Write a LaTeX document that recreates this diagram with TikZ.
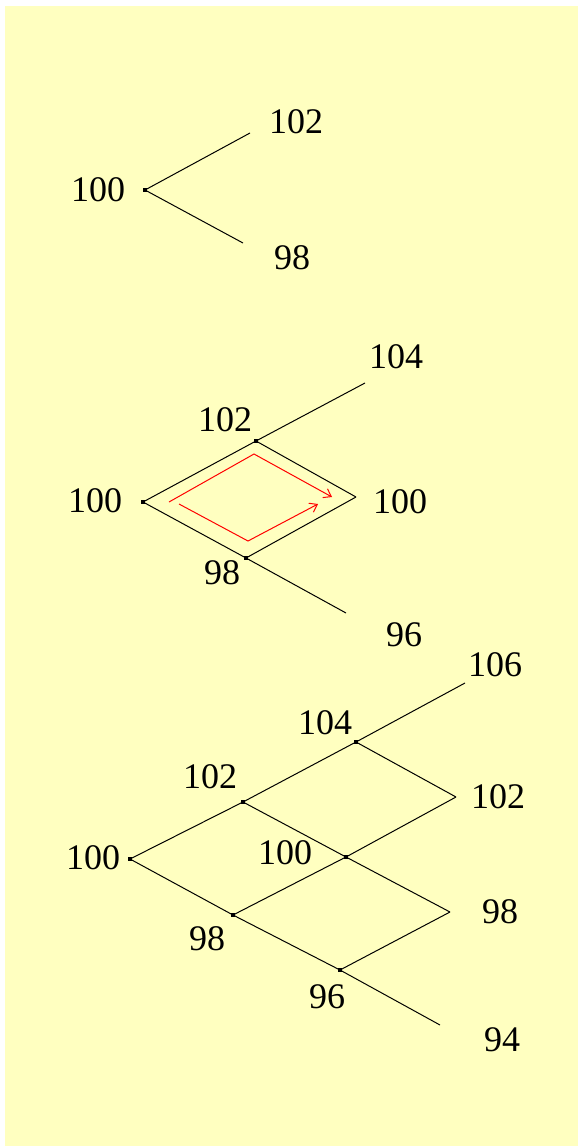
\documentclass[tikz,border=0pt]{standalone}
\usepackage{fontspec}
\setmainfont{Liberation Serif}
\usetikzlibrary{arrows.meta}
\definecolor{bgyellow}{RGB}{255,255,192}
\begin{document}
\begin{tikzpicture}[x=1pt,y=-1pt,
  edge/.style={line width=1pt},
  lbl/.style={font=\fontsize{36}{40}\selectfont, inner sep=0pt, anchor=center},
  dotsq/.style={rectangle, fill=black, inner sep=0pt, minimum size=4pt},
  redpath/.style={red, line width=1pt, -{Straight Barb[length=7pt,width=10pt]}}]
\useasboundingbox (0,0) rectangle (578,1148);
\fill[bgyellow] (5,6) rectangle (578,1146);

% ---------- Tree 1 ----------
\coordinate (a0) at (145,190);
\coordinate (a1) at (250,133);
\coordinate (a2) at (243,243);
\draw[edge] (a0) -- (a1);
\draw[edge] (a0) -- (a2);
\node[dotsq] (da0) at (a0) {};
\node[lbl] (la0) at (98,190) {100};
\node[lbl] (la1) at (296,122) {102};
\node[lbl] (la2) at (292,258) {98};

% ---------- Tree 2 ----------
\coordinate (b0) at (143,502);
\coordinate (bu) at (256,441);
\coordinate (bue) at (365,383);
\coordinate (bm) at (356,497);
\coordinate (bd) at (246,558);
\coordinate (bde) at (346,613);
\draw[edge] (b0) -- (bu);
\draw[edge] (bu) -- (bue);
\draw[edge] (bu) -- (bm);
\draw[edge] (b0) -- (bd);
\draw[edge] (bd) -- (bm);
\draw[edge] (bd) -- (bde);
\node[dotsq] (db0) at (b0) {};
\node[dotsq] (dbu) at (bu) {};
\node[dotsq] (dbd) at (bd) {};
\node[lbl] (lb0) at (95,501) {100};
\node[lbl] (lbue) at (396,357) {104};
\node[lbl] (lbu) at (225,420) {102};
\node[lbl] (lbm) at (400,502) {100};
\node[lbl] (lbd) at (222,573) {98};
\node[lbl] (lbde) at (404,635) {96};
% red paths
\coordinate (ra0) at (169,502);
\coordinate (ra1) at (254,454);
\coordinate (ra2) at (332,497);
\coordinate (rb0) at (179,504);
\coordinate (rb1) at (248,541);
\coordinate (rb2) at (318,504);
\draw[redpath] (ra0) -- (ra1) -- (ra2);
\draw[redpath] (rb0) -- (rb1) -- (rb2);

% ---------- Tree 3 ----------
\coordinate (c0) at (130,859);
\coordinate (cu1) at (243,802);
\coordinate (cu2) at (356,742);
\coordinate (cue) at (465,683);
\coordinate (crv) at (456,797);
\coordinate (cm1) at (346,857);
\coordinate (crv2) at (450,912);
\coordinate (cd1) at (233,915);
\coordinate (cd2) at (340,970);
\coordinate (cde) at (440,1025);
\draw[edge] (c0) -- (cu1);
\draw[edge] (cu1) -- (cu2);
\draw[edge] (cu2) -- (cue);
\draw[edge] (cu2) -- (crv);
\draw[edge] (crv) -- (cm1);
\draw[edge] (cu1) -- (cm1);
\draw[edge] (cm1) -- (crv2);
\draw[edge] (c0) -- (cd1);
\draw[edge] (cd1) -- (cm1);
\draw[edge] (cd1) -- (cd2);
\draw[edge] (cd2) -- (crv2);
\draw[edge] (cd2) -- (cde);
\node[dotsq] (dc0) at (c0) {};
\node[dotsq] (dcu1) at (cu1) {};
\node[dotsq] (dcu2) at (cu2) {};
\node[dotsq] (dcm1) at (cm1) {};
\node[dotsq] (dcd1) at (cd1) {};
\node[dotsq] (dcd2) at (cd2) {};
\node[lbl] (lcue) at (495,665) {106};
\node[lbl] (lcu2) at (325,723) {104};
\node[lbl] (lcu1) at (210,777) {102};
\node[lbl] (lcrv) at (498,797) {102};
\node[lbl] (lcm1) at (285,853) {100};
\node[lbl] (lc0) at (93,858) {100};
\node[lbl] (lcrv2) at (500,912) {98};
\node[lbl] (lcd1) at (207,939) {98};
\node[lbl] (lcd2) at (327,997) {96};
\node[lbl] (lcde) at (502,1040) {94};
\end{tikzpicture}
\end{document}
